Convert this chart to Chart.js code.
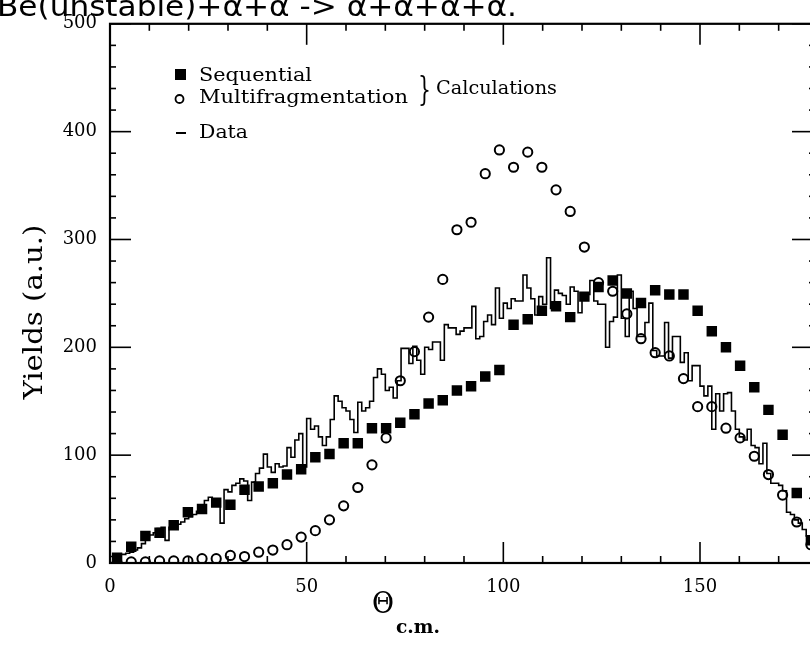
<!DOCTYPE html>
<html><head><meta charset="utf-8">
<script src="https://cdn.jsdelivr.net/npm/chart.js@4/dist/chart.umd.min.js"></script>
<style>html,body{margin:0;padding:0;background:#fff;overflow:hidden;width:810px;height:645px}canvas{display:block}</style>
</head><body>
<canvas id="c" width="830" height="645"></canvas>
<script>
// ---- data ----
const xTickLabels=[0,50,100,150];
const yTickLabels=[0,100,200,300,400,500];
const calcAngles=[1.8,5.4,9.0,12.6,16.2,19.8,23.4,27.0,30.6,34.2,37.8,41.4,45.0,48.6,52.2,55.8,59.4,63.0,66.6,70.2,73.8,77.4,81.0,84.6,88.2,91.8,95.4,99.0,102.6,106.2,109.8,113.4,117.0,120.6,124.2,127.8,131.4,135.0,138.6,142.2,145.8,149.4,153.0,156.6,160.2,163.8,167.4,171.0,174.6,178.2];
const sequentialYield=[5,15,25,28,35,47,50,56,54,68,71,74,82,87,98,101,111,111,125,125,130,138,148,151,160,164,173,179,221,226,234,238,228,247,256,262,250,241,253,249,249,234,215,200,183,163,142,119,65,21];
const multifragYield=[0,1,1,2,2,2,4,4,7,6,10,12,17,24,30,40,53,70,91,116,169,196,228,263,309,316,361,383,367,381,367,346,326,293,260,252,231,208,195,192,171,145,145,125,116,99,82,63,38,17];
// measured histogram, one value per 1-degree bin starting at 0
const dataYield=[
3,6,7,8,8,9,10,12,14,18,
24,26,28,32,33,21,33,34,36,38,
41,43,45,48,51,58,61,55,56,37,
68,66,72,74,78,76,58,75,83,88,
101,89,84,92,89,90,107,98,114,120,
89,134,124,127,117,109,117,133,155,150,
144,141,133,121,149,141,144,150,172,180,
175,160,163,153,169,199,199,185,201,188,
175,200,198,205,205,188,221,218,218,212,
215,218,218,238,208,210,224,230,221,255,
227,241,236,245,243,243,267,255,245,230,
247,240,283,236,253,250,248,240,256,252,
232,245,249,262,243,240,240,200,224,228,
267,227,210,252,236,210,210,223,241,197,
192,192,223,190,210,210,186,195,169,183,
183,164,155,164,124,157,141,157,158,141,
124,117,114,124,109,107,92,111,83,74,
74,72,67,47,45,40,37,31,25,18];
const binWidth=1;
const titleText='Be(unstable)+\u03b1+\u03b1 -> \u03b1+\u03b1+\u03b1+\u03b1.';

// ---- build datasets ----
const seqPts=calcAngles.map((x,i)=>({x:x,y:sequentialYield[i]}));
const mfPts=calcAngles.map((x,i)=>({x:x,y:multifragYield[i]}));
const histPts=[{x:0,y:0}].concat(dataYield.map((v,i)=>({x:i*binWidth,y:v})));
histPts.push({x:dataYield.length*binWidth,y:dataYield[dataYield.length-1]});

const SERIF='"DejaVu Serif", "Liberation Serif", serif';
function fitText(ctx,t,x,y,w){const m=ctx.measureText(t).width;ctx.save();ctx.translate(x,y);ctx.scale(w/m,1);ctx.fillText(t,0,0);ctx.restore();}

const deco={id:'deco',afterDraw(chart){
  const {ctx,chartArea:a,scales:{x,y}}=chart;
  ctx.save();
  ctx.strokeStyle='#000';ctx.fillStyle='#000';
  // frame
  ctx.lineWidth=2.2;
  ctx.strokeRect(a.left,a.top,a.right-a.left,a.bottom-a.top);
  ctx.lineWidth=1.6;
  const ln=(x1,y1,x2,y2)=>{ctx.beginPath();ctx.moveTo(x1,y1);ctx.lineTo(x2,y2);ctx.stroke();};
  for(let v=0;v<=180;v+=10){const px=x.getPixelForValue(v);const L=v%50===0?21:7;ln(px,a.bottom,px,a.bottom-L);ln(px,a.top,px,a.top+L);}
  for(let v=0;v<=500;v+=20){const py=y.getPixelForValue(v);const L=v%100===0?21:6;ln(a.left,py,a.left+L,py);ln(a.right,py,a.right-(v%100===0?26:9),py);}
  // top title (cropped)
  ctx.font='28px "DejaVu Sans", sans-serif';ctx.textBaseline='alphabetic';ctx.textAlign='left';
  fitText(ctx,titleText,-3,16,520);
  // axis titles
  ctx.font='26px '+SERIF;ctx.textBaseline='middle';
  ctx.save();ctx.translate(35,312);ctx.rotate(-Math.PI/2);
  const yt='Yields (a.u.)';const m=ctx.measureText(yt).width;ctx.scale(175/m,1);ctx.textAlign='center';ctx.fillText(yt,0,0);ctx.restore();
  ctx.font='30px '+SERIF;ctx.textAlign='left';
  fitText(ctx,'\u0398',372,605,22);
  ctx.font='bold 18px '+SERIF;
  fitText(ctx,'c.m.',396,628,44);
  // legend
  ctx.fillRect(175,69,11,11);
  ctx.lineWidth=1.8;ctx.beginPath();ctx.arc(179.5,99,4,0,Math.PI*2);ctx.stroke();
  ctx.lineWidth=2;ln(176,133,186,133);
  ctx.font='18px '+SERIF;ctx.textBaseline='middle';
  fitText(ctx,'Sequential',199,76,113);
  fitText(ctx,'Multifragmentation',199,98,209);
  fitText(ctx,'Data',199,133,49);
  fitText(ctx,'Calculations',436,89,121);
  ctx.font='34px '+SERIF;
  fitText(ctx,'}',418,91,13);
  ctx.restore();
}};

new Chart(document.getElementById('c'),{
  type:'scatter',
  data:{datasets:[
    {label:'Sequential',data:seqPts,pointStyle:'rect',pointRadius:7.4,backgroundColor:'#000',borderColor:'#000',borderWidth:0,showLine:false},
    {label:'Multifragmentation',data:mfPts,pointStyle:'circle',pointRadius:4.6,backgroundColor:'rgba(0,0,0,0)',borderColor:'#000',borderWidth:2,showLine:false},
    {label:'Data',type:'line',data:histPts,stepped:'after',borderColor:'#000',borderWidth:1.6,pointRadius:0,fill:false,showLine:true}
  ]},
  options:{
    responsive:false,animation:false,events:[],
    layout:{padding:{top:21,right:12,left:0,bottom:0}},
    plugins:{legend:{display:false},tooltip:{enabled:false}},
    scales:{
      x:{type:'linear',min:0,max:180,
        grid:{display:false,drawTicks:false},border:{display:false},
        afterFit(s){s.height=82;},
        afterBuildTicks(s){s.ticks=xTickLabels.map(v=>({value:v}));},
        ticks:{font:{family:SERIF,size:18},color:'#000',padding:14,maxRotation:0,autoSkip:false}},
      y:{type:'linear',min:0,max:500,
        grid:{display:false,drawTicks:false},border:{display:false},
        afterFit(s){s.width=110;},
        afterBuildTicks(s){s.ticks=yTickLabels.map(v=>({value:v}));},
        ticks:{font:{family:SERIF,size:18},color:'#000',padding:13,autoSkip:false}}
    }
  },
  plugins:[deco]
});
</script>
</body></html>
